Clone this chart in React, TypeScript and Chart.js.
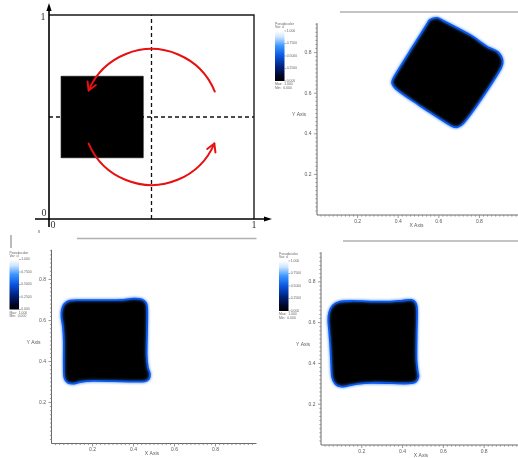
import React, { useEffect, useRef } from "react";
import { Chart, registerables } from "chart.js";
Chart.register(...registerables);

// ---------- Panel 1 (schematic) ----------
const squareX = [0.06, 0.46, 0.46, 0.06, 0.06];
const squareY = [0.3, 0.3, 0.7, 0.7, 0.3];
const vDashX = [0.5, 0.5];
const vDashY = [0, 1];
const hDashX = [0, 1];
const hDashY = [0.5, 0.5];
const p1AxisLabels = ["0", "1"];
const arcCenter = [0.5, 0.5];
const arcRadius = 0.333;
const arcStartDeg = [22, 203];
const arcEndDeg = [157, 337];

// ---------- Panel 2 (rotated body) ----------
const rotX = [0.51, 0.394, 0.37, 0.381, 0.477, 0.543, 0.556, 0.593, 0.625, 0.757, 0.84, 0.889, 0.914, 0.906, 0.807, 0.724, 0.692, 0.658, 0.51];
const rotY = [0.536, 0.617, 0.65, 0.682, 0.837, 0.942, 0.962, 0.971, 0.955, 0.885, 0.828, 0.804, 0.763, 0.723, 0.568, 0.455, 0.433, 0.441, 0.536];

// ---------- Panel 3 (body back, first pass) ----------
const sq3X = [0.26, 0.34, 0.4, 0.44, 0.462, 0.467, 0.466, 0.464, 0.47, 0.48, 0.475, 0.455, 0.4, 0.3, 0.2, 0.14, 0.105, 0.078, 0.063, 0.06, 0.06, 0.056, 0.049, 0.05, 0.062, 0.09, 0.15, 0.26];
const sq3Y = [0.699, 0.7, 0.707, 0.703, 0.685, 0.65, 0.55, 0.43, 0.37, 0.34, 0.315, 0.303, 0.302, 0.304, 0.305, 0.3, 0.292, 0.298, 0.32, 0.38, 0.5, 0.57, 0.615, 0.65, 0.68, 0.697, 0.699, 0.699];

// ---------- Panel 4 (body back, second pass) ----------
const sq4X = [0.26, 0.34, 0.4, 0.445, 0.465, 0.471, 0.469, 0.468, 0.474, 0.478, 0.465, 0.43, 0.35, 0.25, 0.18, 0.13, 0.095, 0.07, 0.055, 0.05, 0.046, 0.04, 0.036, 0.04, 0.058, 0.09, 0.15, 0.26];
const sq4Y = [0.703, 0.703, 0.708, 0.711, 0.695, 0.66, 0.55, 0.42, 0.36, 0.335, 0.31, 0.302, 0.303, 0.305, 0.3, 0.29, 0.287, 0.3, 0.33, 0.4, 0.48, 0.56, 0.61, 0.65, 0.685, 0.702, 0.706, 0.703];

// ---------- VisIt axes / legend ----------
const tickValues = [0.2, 0.4, 0.6, 0.8];
const tickLabels = ["0.2", "0.4", "0.6", "0.8"];
const legendValues = [1, 0.75, 0.5, 0.25, 0];
const legendLabels = ["1.000", "0.7500", "0.5000", "0.2500", "0.000"];
const legendTitle = ["Pseudocolor", "Var: cl"];
const legendMaxMin = ["Max:  1.000", "Min:  0.000"];
const axisTitles = ["X Axis", "Y Axis"];

const pts = (xs: number[], ys: number[]) => xs.map((x, i) => ({ x, y: ys[i] }));

const schematicPlugin = {
  id: "schematic",
  afterDatasetsDraw(chart: any) {
    const { ctx, chartArea: a, scales } = chart;
    const px = (v: number) => scales.x.getPixelForValue(v);
    const py = (v: number) => scales.y.getPixelForValue(v);
    ctx.save();
    ctx.strokeStyle = "#1a1a1a";
    ctx.lineWidth = 1.4;
    ctx.beginPath();
    ctx.moveTo(px(0), py(1));
    ctx.lineTo(px(1), py(1));
    ctx.lineTo(px(1), py(0));
    ctx.stroke();
    ctx.strokeStyle = "#000";
    ctx.lineWidth = 1.6;
    ctx.beginPath();
    ctx.moveTo(px(0), a.bottom + 8);
    ctx.lineTo(px(0), 9);
    ctx.moveTo(a.left - 14, py(0));
    ctx.lineTo(a.right + 12, py(0));
    ctx.stroke();
    ctx.fillStyle = "#000";
    ctx.beginPath();
    ctx.moveTo(px(0), 3);
    ctx.lineTo(px(0) - 2.6, 11);
    ctx.lineTo(px(0) + 2.6, 11);
    ctx.closePath();
    ctx.fill();
    ctx.beginPath();
    ctx.moveTo(a.right + 18, py(0));
    ctx.lineTo(a.right + 10, py(0) - 2.6);
    ctx.lineTo(a.right + 10, py(0) + 2.6);
    ctx.closePath();
    ctx.fill();
    ctx.font = '10px "Liberation Serif"';
    ctx.fillStyle = "#333";
    ctx.textAlign = "center";
    ctx.textBaseline = "middle";
    ctx.fillText(p1AxisLabels[1], a.left - 6, py(1) + 2);
    ctx.fillText(p1AxisLabels[0], a.left - 5, py(0) - 6);
    ctx.fillText(p1AxisLabels[0], a.left + 4, py(0) + 6);
    ctx.fillText(p1AxisLabels[1], px(1), py(0) + 6);
    const cx = px(arcCenter[0]);
    const cy = py(arcCenter[1]);
    const rx = px(arcCenter[0] + arcRadius) - cx;
    const ry = cy - py(arcCenter[1] + arcRadius);
    ctx.strokeStyle = "#e81010";
    ctx.lineWidth = 2;
    ctx.lineCap = "round";
    for (let k = 0; k < arcStartDeg.length; k++) {
      const s = (arcStartDeg[k] * Math.PI) / 180;
      const e = (arcEndDeg[k] * Math.PI) / 180;
      ctx.beginPath();
      ctx.ellipse(cx, cy, rx, ry, 0, -s, -e, true);
      ctx.stroke();
      const tx = cx + rx * Math.cos(e);
      const ty = cy - ry * Math.sin(e);
      const bx = Math.sin(e);
      const by = Math.cos(e);
      const L = 9;
      const ang = (30 * Math.PI) / 180;
      ctx.beginPath();
      for (const sgn of [1, -1]) {
        const c = Math.cos(sgn * ang), sn = Math.sin(sgn * ang);
        const wx = bx * c - by * sn;
        const wy = bx * sn + by * c;
        ctx.moveTo(tx, ty);
        ctx.lineTo(tx + wx * L, ty + wy * L);
      }
      ctx.stroke();
    }
    ctx.restore();
  },
};

function SchematicPanel() {
  const ref = useRef<HTMLCanvasElement>(null);
  useEffect(() => {
    const chart = new Chart(ref.current as HTMLCanvasElement, {
      type: "scatter",
      data: {
        datasets: [
          { data: pts(squareX, squareY), showLine: true, fill: "shape", backgroundColor: "#000", borderColor: "#000", borderWidth: 0.5, pointRadius: 0, tension: 0 } as any,
          { data: pts(vDashX, vDashY), showLine: true, fill: false, borderColor: "#111", borderWidth: 1.3, borderDash: [4, 3], pointRadius: 0 },
          { data: pts(hDashX, hDashY), showLine: true, fill: false, borderColor: "#111", borderWidth: 1.3, borderDash: [4, 3], pointRadius: 0 },
        ],
      },
      options: {
        responsive: false,
        animation: false,
        events: [],
        layout: { padding: { left: 49, top: 15, right: 21, bottom: 13 } },
        scales: {
          x: { type: "linear", min: 0, max: 1, display: false },
          y: { type: "linear", min: 0, max: 1, display: false },
        },
        plugins: { legend: { display: false }, tooltip: { enabled: false } },
      },
      plugins: [schematicPlugin],
    });
    return () => chart.destroy();
  }, []);
  return <canvas ref={ref} width={275} height={232} style={{ position: "absolute", left: 0, top: 0 }} />;
}

type VisitProps = {
  left: number;
  top: number;
  width: number;
  height: number;
  pad: { left: number; right: number; top: number; bottom: number };
  xMax: number;
  xs: number[];
  ys: number[];
  topLineStart: number;
  fragment?: boolean;
};

function makeVisitPlugin(p: VisitProps) {
  return {
    id: "visitDecor",
    beforeDatasetsDraw(chart: any) {
      const ctx = chart.ctx;
      ctx.save();
      ctx.shadowColor = "rgba(50,130,255,0.9)";
      ctx.shadowBlur = 3;
    },
    afterDatasetsDraw(chart: any) {
      const { ctx, chartArea: a, scales } = chart;
      ctx.restore();
      const px = (v: number) => scales.x.getPixelForValue(v);
      const py = (v: number) => scales.y.getPixelForValue(v);
      ctx.save();
      ctx.strokeStyle = "#b0b0b0";
      ctx.lineWidth = 1.4;
      ctx.beginPath();
      ctx.moveTo(px(p.topLineStart), py(1));
      ctx.lineTo(a.right, py(1));
      ctx.stroke();
      ctx.strokeStyle = "#6a6a6a";
      ctx.lineWidth = 1;
      ctx.beginPath();
      ctx.moveTo(px(0), py(0));
      ctx.lineTo(Math.min(px(1), a.right), py(0));
      ctx.moveTo(px(0), py(0));
      ctx.lineTo(px(0), py(0.945));
      ctx.stroke();
      ctx.strokeStyle = "#808080";
      ctx.lineWidth = 0.8;
      ctx.beginPath();
      for (let i = 1; i < 50; i++) {
        const v = i / 50;
        const len = i % 10 === 0 ? 3 : 1.6;
        if (px(v) <= a.right) {
          ctx.moveTo(px(v), py(0));
          ctx.lineTo(px(v), py(0) + len);
        }
        if (v <= 0.945) {
          ctx.moveTo(px(0), py(v));
          ctx.lineTo(px(0) - len, py(v));
        }
      }
      ctx.stroke();
      ctx.fillStyle = "#5a5a5a";
      ctx.font = '5px "Liberation Sans"';
      ctx.textBaseline = "middle";
      ctx.textAlign = "center";
      tickValues.forEach((v, i) => {
        ctx.fillText(tickLabels[i], px(v), py(0) + 6.5);
      });
      ctx.textAlign = "right";
      tickValues.forEach((v, i) => {
        ctx.fillText(tickLabels[i], px(0) - 5.5, py(v));
      });
      ctx.textAlign = "center";
      ctx.fillText(axisTitles[0], px(0.49), py(0) + 10.5);
      ctx.fillText(axisTitles[1], px(0) - 18, py(0.5) + 1.5);
      const cbX = a.left - 42;
      const cbY = a.bottom - 184;
      const cbW = 9.5;
      const cbH = 50;
      const g = ctx.createLinearGradient(0, cbY, 0, cbY + cbH);
      g.addColorStop(0, "#ffffff");
      g.addColorStop(0.12, "#cfe4ff");
      g.addColorStop(0.3, "#3a96ff");
      g.addColorStop(0.5, "#0a55e0");
      g.addColorStop(0.72, "#00207a");
      g.addColorStop(0.9, "#000528");
      g.addColorStop(1, "#000000");
      ctx.fillStyle = g;
      ctx.fillRect(cbX, cbY, cbW, cbH);
      ctx.strokeStyle = "#7a7a7a";
      ctx.lineWidth = 0.6;
      ctx.font = '3.4px "Liberation Sans"';
      ctx.fillStyle = "#666";
      ctx.textAlign = "left";
      ctx.beginPath();
      legendValues.forEach((v, i) => {
        const yy = cbY + (1 - v) * cbH;
        ctx.moveTo(cbX + cbW, yy);
        ctx.lineTo(cbX + cbW + 1.8, yy);
        ctx.fillText(legendLabels[i], cbX + cbW + 2.2, yy);
      });
      ctx.stroke();
      ctx.fillText(legendTitle[0], cbX, cbY - 6.5);
      ctx.fillText(legendTitle[1], cbX, cbY - 3.5);
      ctx.fillText(legendMaxMin[0], cbX, cbY + cbH + 3.5);
      ctx.fillText(legendMaxMin[1], cbX, cbY + cbH + 6.8);
      if (p.fragment) {
        ctx.strokeStyle = "#777";
        ctx.lineWidth = 1;
        ctx.beginPath();
        ctx.moveTo(11, 5);
        ctx.lineTo(11, 18);
        ctx.moveTo(39, 0);
        ctx.lineTo(39, 3);
        ctx.stroke();
      }
      ctx.restore();
    },
  };
}

function VisitPanel(p: VisitProps) {
  const ref = useRef<HTMLCanvasElement>(null);
  useEffect(() => {
    const chart = new Chart(ref.current as HTMLCanvasElement, {
      type: "scatter",
      data: {
        datasets: [
          {
            data: pts(p.xs, p.ys),
            showLine: true,
            fill: "shape",
            backgroundColor: "#000",
            borderColor: "#0a58ee",
            borderWidth: 1.8,
            pointRadius: 0,
            tension: 0.3,
            clip: false,
          } as any,
        ],
      },
      options: {
        responsive: false,
        animation: false,
        events: [],
        layout: { padding: p.pad },
        scales: {
          x: { type: "linear", min: 0, max: p.xMax, display: false },
          y: { type: "linear", min: 0, max: 1, display: false },
        },
        plugins: { legend: { display: false }, tooltip: { enabled: false } },
      },
      plugins: [makeVisitPlugin(p)],
    });
    return () => chart.destroy();
  }, []);
  return <canvas ref={ref} width={p.width} height={p.height} style={{ position: "absolute", left: p.left, top: p.top }} />;
}

export default function App() {
  return (
    <div>
      <SchematicPanel />
      <VisitPanel left={270} top={0} width={248} height={232} pad={{ left: 47, top: 12, right: 0, bottom: 17 }} xMax={0.99} xs={rotX} ys={rotY} topLineStart={0.113} />
      <VisitPanel left={0} top={230} width={262} height={228} pad={{ left: 51.5, top: 8.5, right: 5.5, bottom: 14.5 }} xMax={1} xs={sq3X} ys={sq3Y} topLineStart={0.124} fragment />
      <VisitPanel left={260} top={230} width={258} height={228} pad={{ left: 61, top: 11, right: 0, bottom: 13 }} xMax={0.966} xs={sq4X} ys={sq4Y} topLineStart={0.108} />
    </div>
  );
}
